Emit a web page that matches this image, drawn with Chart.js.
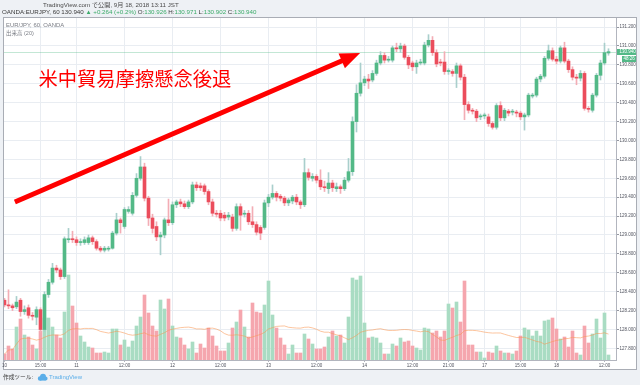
<!DOCTYPE html>
<html>
<head>
<meta charset="utf-8">
<title>EUR/JPY 60</title>
<script src="https://cdn.jsdelivr.net/npm/chart.js@4.4.1/dist/chart.umd.min.js"></script>
<style>
  html, body { margin: 0; padding: 0; background: #eef1f5; }
  #chart { display: block; }
</style>
</head>
<body>
<canvas id="chart" width="640" height="385"></canvas>
<script>
/* ---- EUR/JPY 60-minute bars, Sep 10 06:00 .. Sep 18 13:00 JST ---- */

const opens = [
  128.31, 128.26, 128.25, 128.24, 128.31, 128.19, 128.23, 128.15, 128.13, 128.21,
  128.00, 128.37, 128.50, 128.65, 128.63, 128.56, 128.95, 128.96, 128.95, 128.92,
  128.92, 128.92, 128.97, 128.93, 128.86, 128.84, 128.85, 128.86, 129.02, 129.16,
  129.09, 129.25, 129.23, 129.42, 129.60, 129.72, 129.39, 129.18, 129.09, 128.98,
  129.00, 129.16, 129.13, 129.32, 129.35, 129.33, 129.30, 129.35, 129.53, 129.52,
  129.52, 129.46, 129.35, 129.23, 129.23, 129.21, 129.19, 129.19, 129.07, 129.30,
  129.22, 129.23, 129.14, 129.11, 129.08, 129.08, 129.34, 129.40, 129.44, 129.41,
  129.39, 129.34, 129.36, 129.40, 129.35, 129.32, 129.66, 129.60, 129.62, 129.58,
  129.51, 129.49, 129.55, 129.49, 129.51, 129.49, 129.58, 129.67, 130.20, 130.50,
  130.61, 130.65, 130.64, 130.71, 130.82, 130.90, 130.85, 130.85, 130.98, 130.97,
  131.00, 130.88, 130.82, 130.78, 130.82, 130.82, 131.01, 131.06, 130.93, 130.83,
  130.83, 130.73, 130.73, 130.71, 130.79, 130.67, 130.38, 130.32, 130.31, 130.25,
  130.26, 130.25, 130.18, 130.14, 130.37, 130.24, 130.31, 130.30, 130.30, 130.29,
  130.25, 130.27, 130.47, 130.48, 130.65, 130.68, 130.87, 130.95, 130.86, 130.84,
  130.98, 130.84, 130.75, 130.67, 130.66, 130.71, 130.34, 130.32, 130.48, 130.69,
  130.82, 130.926
];

const highs = [
  128.33, 128.42, 128.27, 128.35, 128.33, 128.25, 128.26, 128.18, 128.24, 128.23,
  128.40, 128.53, 128.70, 128.68, 128.65, 128.98, 129.07, 129.04, 128.98, 128.96,
  128.98, 129.00, 128.99, 128.95, 128.88, 128.88, 128.88, 129.04, 129.23, 129.18,
  129.29, 129.30, 129.45, 129.65, 129.83, 129.76, 129.41, 129.22, 129.14, 129.03,
  129.18, 129.38, 129.35, 129.37, 129.38, 129.36, 129.37, 129.56, 129.56, 129.55,
  129.54, 129.48, 129.38, 129.26, 129.26, 129.24, 129.24, 129.22, 129.33, 129.33,
  129.26, 129.26, 129.30, 129.14, 129.10, 129.37, 129.43, 129.53, 129.46, 129.43,
  129.41, 129.39, 129.42, 129.43, 129.37, 129.81, 129.70, 129.65, 129.64, 129.69,
  129.57, 129.66, 129.58, 129.55, 129.53, 129.61, 129.81, 130.25, 130.59, 130.82,
  130.68, 130.70, 130.74, 130.85, 130.94, 130.93, 130.89, 131.00, 131.03, 131.03,
  131.02, 130.90, 130.84, 130.85, 130.86, 131.04, 131.12, 131.10, 130.96, 130.86,
  130.94, 130.76, 130.75, 130.82, 130.81, 130.70, 130.41, 130.34, 130.33, 130.28,
  130.29, 130.28, 130.20, 130.39, 130.41, 130.34, 130.33, 130.33, 130.32, 130.31,
  130.29, 130.50, 130.50, 130.67, 130.70, 130.89, 131.01, 130.98, 130.89, 131.00,
  131.04, 130.86, 130.78, 130.70, 130.74, 130.73, 130.36, 130.50, 130.71, 130.85,
  131.03, 130.971
];

const lows = [
  128.24, 128.22, 128.20, 128.22, 128.14, 128.16, 128.12, 128.10, 128.05, 127.97,
  127.98, 128.34, 128.48, 128.60, 128.53, 128.54, 128.92, 128.92, 128.89, 128.89,
  128.90, 128.90, 128.90, 128.84, 128.82, 128.82, 128.83, 128.85, 129.00, 129.02,
  129.07, 129.23, 129.21, 129.40, 129.58, 129.36, 129.10, 129.02, 128.94, 128.79,
  128.97, 129.10, 129.11, 129.29, 129.30, 129.28, 129.28, 129.33, 129.47, 129.47,
  129.43, 129.32, 129.20, 129.19, 129.15, 129.15, 129.16, 129.04, 129.05, 129.05,
  129.19, 129.11, 129.08, 129.00, 128.95, 129.06, 129.30, 129.38, 129.36, 129.36,
  129.31, 129.31, 129.33, 129.32, 129.28, 129.30, 129.58, 129.57, 129.55, 129.48,
  129.46, 129.44, 129.46, 129.46, 129.44, 129.47, 129.56, 129.63, 130.09, 130.47,
  130.58, 130.55, 130.62, 130.69, 130.80, 130.82, 130.83, 130.83, 130.94, 130.93,
  130.86, 130.76, 130.74, 130.71, 130.80, 130.80, 130.99, 130.90, 130.78, 130.79,
  130.70, 130.70, 130.68, 130.56, 130.64, 130.22, 130.29, 130.28, 130.20, 130.22,
  130.23, 130.15, 130.12, 130.12, 130.21, 130.21, 130.26, 130.27, 130.25, 130.22,
  130.11, 130.25, 130.45, 130.46, 130.62, 130.66, 130.85, 130.84, 130.81, 130.82,
  130.82, 130.72, 130.64, 130.59, 130.63, 130.32, 130.30, 130.30, 130.46, 130.64,
  130.80, 130.902
];

const closes = [
  128.26, 128.25, 128.23, 128.29, 128.19, 128.21, 128.15, 128.14, 128.21, 128.00,
  128.37, 128.50, 128.65, 128.63, 128.56, 128.96, 128.96, 128.95, 128.92, 128.93,
  128.95, 128.97, 128.93, 128.86, 128.84, 128.86, 128.86, 129.02, 129.16, 129.13,
  129.27, 129.27, 129.42, 129.60, 129.72, 129.39, 129.18, 129.07, 128.98, 129.00,
  129.16, 129.13, 129.32, 129.35, 129.33, 129.30, 129.35, 129.53, 129.50, 129.50,
  129.46, 129.35, 129.23, 129.22, 129.18, 129.18, 129.21, 129.07, 129.30, 129.21,
  129.23, 129.14, 129.11, 129.03, 129.02, 129.34, 129.40, 129.44, 129.40, 129.39,
  129.34, 129.37, 129.40, 129.35, 129.32, 129.66, 129.61, 129.62, 129.58, 129.51,
  129.50, 129.55, 129.50, 129.51, 129.49, 129.58, 129.67, 130.20, 130.50, 130.61,
  130.65, 130.63, 130.71, 130.82, 130.90, 130.85, 130.86, 130.98, 130.97, 131.00,
  130.88, 130.80, 130.78, 130.82, 130.83, 131.01, 131.06, 130.93, 130.81, 130.82,
  130.73, 130.73, 130.71, 130.79, 130.67, 130.38, 130.32, 130.31, 130.24, 130.26,
  130.26, 130.18, 130.14, 130.37, 130.24, 130.32, 130.29, 130.31, 130.29, 130.25,
  130.27, 130.48, 130.48, 130.65, 130.68, 130.87, 130.95, 130.86, 130.84, 130.98,
  130.84, 130.75, 130.67, 130.66, 130.71, 130.34, 130.33, 130.48, 130.69, 130.82,
  130.93, 130.940
];

// volume, relative units (no axis shown in the source)
const volume = [
   6, 14, 11, 33, 41, 25, 23, 15, 11, 29,
  42, 42, 33, 25, 22, 48, 85, 54, 37, 24,
  18, 13, 12,  7,  7,  8,  7, 31, 31, 15,
  20, 13, 19, 34, 43, 65, 47, 34, 29, 60,
  51, 61, 34, 23, 22, 15, 11, 18,  7, 16,
  12, 32, 24, 14,  9,  9, 17, 32, 38, 50,
  33, 23, 57, 48, 47, 55, 79, 45, 32, 22,
  15,  6, 15,  7,  7, 26, 21, 16, 11, 11,
  13, 23, 29, 24, 25, 17, 43, 82, 80, 84,
  37, 22, 23, 22, 17,  6,  6, 16, 14, 22,
  18, 19, 14, 12, 10, 32, 31, 27, 29, 23,
  29, 56, 52, 58, 38, 79, 15, 15,  8,  8,
   2,  8,  7, 14,  9,  7,  7,  6,  9, 24,
  32, 30, 24, 29, 24, 39, 40, 42, 31, 21,
  23, 13, 29,  7,  5, 34, 17, 26, 41, 22,
  47,  5
];

// bar index -> time axis label
const timeTickIdx  = [0, 9, 18, 30, 42, 54, 66, 78, 90, 102, 111, 120, 129, 138, 150];
const timeTickText = ['10', '15:00', '11', '12:00', '12', '12:00', '13', '12:00', '14', '12:00', '21:00', '17', '15:00', '18', '12:00'];

const priceTicks = [127.8, 128.0, 128.2, 128.4, 128.6, 128.8, 129.0, 129.2, 129.4,
                    129.6, 129.8, 130.0, 130.2, 130.4, 130.6, 130.8, 131.0, 131.2];

const volMaLength = 20;
const changeText = '+0.264 (+0.2%)';
const countdown = '48:26';
const annotationText = '米中貿易摩擦懸念後退';
// arrow in data coordinates: [bar index, price]
const arrowFrom = [2.6, 129.35];
const arrowTo = [88.9, 130.926];

/* ---- colours ---- */
const GREEN = '#53b987';
const RED = '#eb4d5c';
const GREEN_WICK = '#a9cfcc';
const RED_WICK = '#f3adb5';
const VOL_GREEN = '#a9dcc3';
const VOL_RED = '#f5a6ae';
const GRID = '#e9edf2';
const AXIS = '#b2b5be';
const TEXT = '#50535e';
const FONT = '"Liberation Sans", "Noto Sans CJK JP", sans-serif';

/* ---- derived series ---- */
const last = closes.length - 1;
const up = closes.map((c, i) => c >= opens[i]);
const bodies = closes.map((c, i) => ({ x: i, y: [opens[i], c] }));
const wicks = highs.map((h, i) => ({ x: i, y: [lows[i], h] }));
const volBars = volume.map((v, i) => ({ x: i, y: v }));
// simple moving average of volume (uses the bars available at the left edge)
const volMa = volume.map((v, i) => {
    const win = volume.slice(Math.max(0, i - volMaLength + 1), i + 1);
    return { x: i, y: win.reduce((a, b) => a + b, 0) / win.length };
});

function drawRuns(ctx, x, y, runs) {
    runs.forEach(([txt, col]) => {
        ctx.fillStyle = col;
        ctx.fillText(txt, x, y);
        x += ctx.measureText(txt).width;
    });
}

const decor = {
    id: 'decor',
    beforeDraw(chart) {
        const { ctx } = chart;
        ctx.save();
        ctx.fillStyle = '#eef1f5';
        ctx.fillRect(0, 0, 640, 385);
        ctx.fillStyle = '#ffffff';
        ctx.fillRect(3, 17, 633, 352);
        ctx.strokeStyle = '#a9adb5';
        ctx.lineWidth = 1;
        ctx.strokeRect(3.5, 17.5, 633, 352);
        ctx.restore();
    },
    beforeDatasetsDraw(chart) {
        // last price line
        const { ctx, chartArea: a, scales: { y } } = chart;
        const py = Math.round(y.getPixelForValue(closes[last])) + 0.5;
        ctx.save();
        ctx.strokeStyle = 'rgba(83,185,135,0.35)';
        ctx.lineWidth = 1;
        ctx.beginPath();
        ctx.moveTo(a.left, py);
        ctx.lineTo(a.right, py);
        ctx.stroke();
        ctx.restore();
    },
    afterDatasetsDraw(chart) {
        const { ctx, scales: { x, y } } = chart;
        const x0 = x.getPixelForValue(arrowFrom[0]), y0 = y.getPixelForValue(arrowFrom[1]);
        const x1 = x.getPixelForValue(arrowTo[0]), y1 = y.getPixelForValue(arrowTo[1]);
        const len = Math.hypot(x1 - x0, y1 - y0);
        const ux = (x1 - x0) / len, uy = (y1 - y0) / len;
        const headLen = 20, headHalf = 8;
        const bx = x1 - ux * headLen, by = y1 - uy * headLen;
        ctx.save();
        ctx.strokeStyle = '#ff0000';
        ctx.fillStyle = '#ff0000';
        ctx.lineWidth = 5;
        ctx.lineCap = 'butt';
        ctx.beginPath();
        ctx.moveTo(x0, y0);
        ctx.lineTo(bx + ux, by + uy);
        ctx.stroke();
        ctx.beginPath();
        ctx.moveTo(x1, y1);
        ctx.lineTo(bx - uy * headHalf, by + ux * headHalf);
        ctx.lineTo(bx + uy * headHalf, by - ux * headHalf);
        ctx.closePath();
        ctx.fill();

        ctx.font = '19.3px "Noto Sans CJK JP", sans-serif';
        ctx.textBaseline = 'alphabetic';
        ctx.fillText(annotationText, 38.5, 85.5);
        ctx.restore();
    },
    afterDraw(chart) {
        const { ctx, scales: { y } } = chart;
        ctx.save();

        // last price + countdown tags on the price scale
        const py = y.getPixelForValue(closes[last]);
        ctx.fillStyle = GREEN;
        ctx.fillRect(617, Math.round(py) - 3, 19, 6);
        ctx.fillRect(622, Math.round(py) + 4, 14, 6);
        ctx.fillStyle = '#ffffff';
        ctx.font = '4.5px ' + FONT;
        ctx.textBaseline = 'middle';
        ctx.fillText(closes[last].toFixed(3), 619.5, Math.round(py));
        ctx.fillText(countdown, 623.5, Math.round(py) + 7);

        // header
        ctx.font = '6.2px ' + FONT;
        ctx.fillStyle = '#4a4a4a';
        ctx.fillText('TradingView.com で公開, 9月 18, 2018 13:11 JST', 43, 5.5);
        const G = '#3dab6a', D = '#3a3a3a';
        drawRuns(ctx, 2, 12.5, [
            ['OANDA:EURJPY, 60 ' + closes[last].toFixed(3) + ' ', D],
            ['▲ ' + changeText + ' ', G],
            ['O:', D], [opens[last].toFixed(3) + ' ', G],
            ['H:', D], [highs[last].toFixed(3) + ' ', G],
            ['L:', D], [lows[last].toFixed(3) + ' ', G],
            ['C:', D], [closes[last].toFixed(3), G]
        ]);

        // pane legend
        ctx.fillStyle = '#7a7d85';
        ctx.font = '5.9px ' + FONT;
        ctx.fillText('EUR/JPY, 60, OANDA', 6, 25);
        ctx.font = '5.5px ' + FONT;
        ctx.fillText('出来高 (' + volMaLength + ')', 6, 33);

        // footer
        ctx.fillStyle = '#3a3a3a';
        ctx.font = '5.7px ' + FONT;
        ctx.fillText('作成ツール:', 3, 377.5);
        ctx.fillStyle = '#5aaee9';
        ctx.beginPath();
        ctx.arc(40, 378.5, 2.2, 0, Math.PI * 2);
        ctx.arc(43, 376.8, 3, 0, Math.PI * 2);
        ctx.arc(45.6, 378.6, 2, 0, Math.PI * 2);
        ctx.fill();
        ctx.fillRect(40, 378, 5.6, 2.6);
        ctx.font = '6px ' + FONT;
        ctx.fillText('TradingView', 49, 377.5);
        ctx.restore();
    }
};

const ctx = document.getElementById('chart');

new Chart(ctx, {
    type: 'bar',
    data: {
        datasets: [
            {
                label: 'body', data: bodies, yAxisID: 'y', order: 0,
                grouped: false, barThickness: 3, minBarLength: 1,
                backgroundColor: up.map(u => u ? GREEN : RED)
            },
            {
                label: 'wick', data: wicks, yAxisID: 'y', order: 1,
                grouped: false, barThickness: 1,
                backgroundColor: up.map(u => u ? GREEN_WICK : RED_WICK)
            },
            {
                type: 'line', label: 'volume MA', data: volMa, yAxisID: 'yv', order: 2,
                borderColor: 'rgba(250,150,80,0.55)', borderWidth: 1,
                pointRadius: 0, tension: 0, fill: false
            },
            {
                label: 'volume', data: volBars, yAxisID: 'yv', order: 3,
                grouped: false, barThickness: 3,
                backgroundColor: up.map(u => u ? VOL_GREEN : VOL_RED)
            }
        ]
    },
    options: {
        responsive: false,
        animation: false,
        devicePixelRatio: 1,
        layout: { padding: { left: 4, top: 18, right: 4, bottom: 16 } },
        plugins: {
            legend: { display: false },
            tooltip: { enabled: false }
        },
        scales: {
            x: {
                type: 'linear',
                min: -0.125,
                max: 152.875,
                offset: false,
                grid: {
                    offset: false,
                    color: c => (c.tick && c.tick.value === 0) ? 'rgba(0,0,0,0)' : GRID,
                    drawTicks: true,
                    tickLength: 2,
                    tickColor: AXIS
                },
                border: { display: true, color: AXIS },
                afterBuildTicks: axis => { axis.ticks = timeTickIdx.map(v => ({ value: v })); },
                afterFit: axis => { axis.height = 9; },
                ticks: {
                    autoSkip: false,
                    maxRotation: 0,
                    padding: 1,
                    color: TEXT,
                    font: { family: FONT, size: 4.5 },
                    callback: (v, i) => timeTickText[i]
                }
            },
            y: {
                position: 'right',
                min: 127.6772,
                max: 131.2963,
                grid: { color: GRID, drawTicks: true, tickLength: 3, tickColor: '#9598a1' },
                border: { display: true, color: AXIS },
                afterBuildTicks: axis => { axis.ticks = priceTicks.map(v => ({ value: v })); },
                afterFit: axis => { axis.width = 20; },
                ticks: {
                    padding: 0.5,
                    color: TEXT,
                    font: { family: FONT, size: 4.5 },
                    callback: v => Number(v).toFixed(3)
                }
            },
            yv: {
                display: false,
                min: 0,
                max: 342
            }
        }
    },
    plugins: [decor]
});
</script>
</body>
</html>
